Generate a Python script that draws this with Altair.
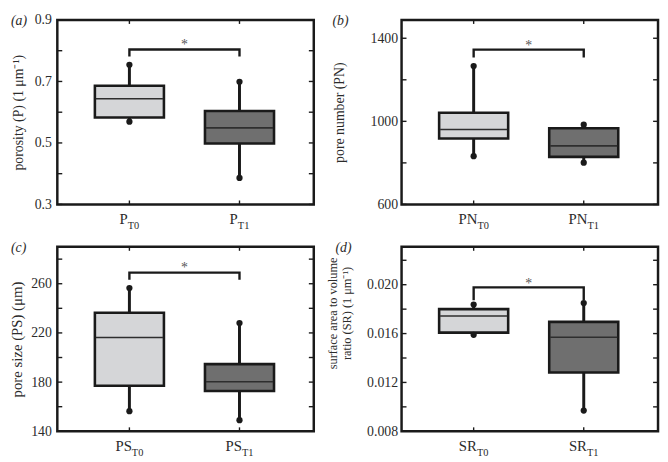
import altair as alt
import pandas as pd

# ---------------- data ----------------
groups = ["T0", "T1"]
positions = [1, 2]
subs = ["T0", "T1"]

# (a) porosity
P_q1 = [0.583, 0.498]
P_med = [0.644, 0.549]
P_q3 = [0.686, 0.604]
P_lo = [0.569, 0.386]
P_hi = [0.754, 0.699]
P_bracket = [0.781, 0.804]
P_star = [0.826]
P_ticks = [0.3, 0.4, 0.5, 0.6, 0.7, 0.8, 0.9]
P_labels = [0.3, 0.5, 0.7, 0.9]

# (b) pore number
PN_q1 = [917, 829]
PN_med = [961, 882]
PN_q3 = [1041, 967]
PN_lo = [832, 801]
PN_hi = [1266, 984]
PN_bracket = [1307, 1345]
PN_star = [1372]
PN_ticks = [600, 800, 1000, 1200, 1400]
PN_labels = [600, 1000, 1400]

# (c) pore size
PS_q1 = [177.1, 172.8]
PS_med = [216.3, 180.3]
PS_q3 = [236.4, 194.6]
PS_lo = [156.4, 149.0]
PS_hi = [256.5, 228.0]
PS_bracket = [263.2, 269.0]
PS_star = [274.0]
PS_ticks = [140, 160, 180, 200, 220, 240, 260, 280]
PS_labels = [140, 180, 220, 260]

# (d) surface area to volume ratio
SR_q1 = [0.01608, 0.01282]
SR_med = [0.01744, 0.01570]
SR_q3 = [0.01800, 0.01696]
SR_lo = [0.01590, 0.00970]
SR_hi = [0.01838, 0.01850]
SR_bracket = [0.01872, 0.01978]
SR_star = [0.0202]
SR_ticks = [0.008, 0.010, 0.012, 0.014, 0.016, 0.018, 0.020, 0.022]
SR_labels = [0.008, 0.012, 0.016, 0.020]

# ---------------- style ----------------
W, H = 260, 187
XDOM = [0.39, 2.63]
LIGHT, DARK = "#d5d6d8", "#6f6f6f"
INK = "#1a1a1a"
TXT = "#2b2b2b"
FONT = "Liberation Serif"


def panel(letter, main, q1, med, q3, lo, hi, bracket, star, ydom, yticks, ylabels,
          ytitle, fmt, label_pad, title_pad, title_size, dx_main, letter_x, title_y=None):
    df = pd.DataFrame({"pos": positions, "grp": groups, "q1": q1, "med": med,
                       "q3": q3, "lo": lo, "hi": hi, "main": [main, main], "sub": subs})
    dots = pd.DataFrame({"pos": positions + positions, "v": lo + hi})
    br = pd.DataFrame({"pos": [positions[0], positions[0], positions[1], positions[1]],
                       "v": [bracket[0], bracket[1], bracket[1], bracket[0]],
                       "o": [0, 1, 2, 3]})
    st = pd.DataFrame({"pos": [(positions[0] + positions[1]) / 2], "v": star, "t": ["*"]})
    tk = pd.DataFrame({"v": yticks})
    lt = pd.DataFrame({"t": [letter]})

    xs = alt.Scale(domain=XDOM, nice=False, zero=False)
    ys = alt.Scale(domain=ydom, nice=False, zero=False)
    axis_kw = dict(values=ylabels, format=fmt, labelPadding=label_pad,
                   titlePadding=title_pad, titleFontSize=title_size)
    if title_y is not None:
        axis_kw["titleY"] = title_y
    yax = alt.Axis(**axis_kw)

    def X(f="pos"):
        return alt.X(f"{f}:Q", scale=xs, axis=None)

    def Y(f):
        return alt.Y(f"{f}:Q", scale=ys, axis=yax, title=ytitle)

    whisk = alt.Chart(df).mark_rule(color=INK, strokeWidth=3).encode(
        x=X(), y=Y("lo"), y2="hi:Q")
    box = alt.Chart(df).mark_bar(size=70, stroke=INK, strokeWidth=2.6, opacity=1).encode(
        x=X(), y=Y("q1"), y2="q3:Q",
        color=alt.Color("grp:N", scale=alt.Scale(domain=groups, range=[LIGHT, DARK]),
                        legend=None))
    median = alt.Chart(df).mark_tick(orient="horizontal", size=68, thickness=1.6,
                                     color="#2e2e2e", opacity=1).encode(x=X(), y=Y("med"))
    dot = alt.Chart(dots).mark_point(filled=True, size=40, color=INK, opacity=1).encode(
        x=X(), y=Y("v"))
    brk = alt.Chart(br).mark_line(color=INK, strokeWidth=2.4, strokeJoin="miter").encode(
        x=X(), y=Y("v"), order="o:Q")
    star_t = alt.Chart(st).mark_text(font=FONT, fontSize=14, color="#555555",
                                     baseline="middle", dy=2).encode(
        x=X(), y=Y("v"), text="t:N")
    lt_ticks = alt.Chart(tk).mark_rule(color=INK, strokeWidth=1.4).encode(
        y=Y("v"), x=alt.value(0), x2=alt.value(5))
    rt_ticks = alt.Chart(tk).mark_rule(color=INK, strokeWidth=1.4).encode(
        y=Y("v"), x=alt.value(W - 5), x2=alt.value(W))
    bt_ticks = alt.Chart(df).mark_rule(color=INK, strokeWidth=1.4).encode(
        x=X(), y=alt.value(H), y2=alt.value(H - 4))
    tp_ticks = alt.Chart(df).mark_rule(color=INK, strokeWidth=1.4).encode(
        x=X(), y=alt.value(0), y2=alt.value(4))
    lab_main = alt.Chart(df).mark_text(font=FONT, fontSize=15, color=TXT, align="right",
                                       baseline="alphabetic", dx=dx_main).encode(
        x=X(), y=alt.value(H + 20), text="main:N")
    lab_sub = alt.Chart(df).mark_text(font=FONT, fontSize=10.5, color=TXT, align="left",
                                      baseline="alphabetic", dx=dx_main).encode(
        x=X(), y=alt.value(H + 25), text="sub:N")
    let = alt.Chart(lt).mark_text(font=FONT, fontSize=14, fontStyle="italic", color=TXT,
                                  align="left", baseline="middle").encode(
        x=alt.value(letter_x), y=alt.value(1), text="t:N")

    return alt.layer(whisk, box, median, dot, brk, star_t, lt_ticks, rt_ticks,
                     bt_ticks, tp_ticks, lab_main, lab_sub, let).properties(width=W, height=H)


pa = panel("(a)", "P", P_q1, P_med, P_q3, P_lo, P_hi, P_bracket, P_star, [0.3, 0.9],
           P_ticks, P_labels, "porosity (P) (1 μm⁻¹)", ".1f", 6, 9, 14, -1.7, -47)
pb = panel("(b)", "PN", PN_q1, PN_med, PN_q3, PN_lo, PN_hi, PN_bracket, PN_star, [600, 1488],
           PN_ticks, PN_labels, "pore number (PN)", "d", 4, 24, 14, 3.8, -70)
pc = panel("(c)", "PS", PS_q1, PS_med, PS_q3, PS_lo, PS_hi, PS_bracket, PS_star, [140, 290],
           PS_ticks, PS_labels, "pore size (PS) (μm)", "d", 6, 6, 15, 2.5, -47)
pd_ = panel("(d)", "SR", SR_q1, SR_med, SR_q3, SR_lo, SR_hi, SR_bracket, SR_star, [0.008, 0.0231],
            SR_ticks, SR_labels, ["surface area to volume", "ratio (SR) (1 μm⁻¹)"], ".3f",
            4, 13, 12.5, 3.3, -67, title_y=67)

chart = alt.concat(pa, pb, pc, pd_, columns=2, spacing={"row": 43, "column": 89},
                   bounds="flush").properties(padding=0).configure_view(
    stroke=INK, strokeWidth=2.5).configure_axis(
    grid=False, ticks=False, domain=False, labelFont=FONT, labelFontSize=14,
    labelColor=TXT, titleFont=FONT, titleColor=TXT, titleFontWeight="normal")

chart.save("out.html", embed_options={"renderer": "svg", "actions": False})
